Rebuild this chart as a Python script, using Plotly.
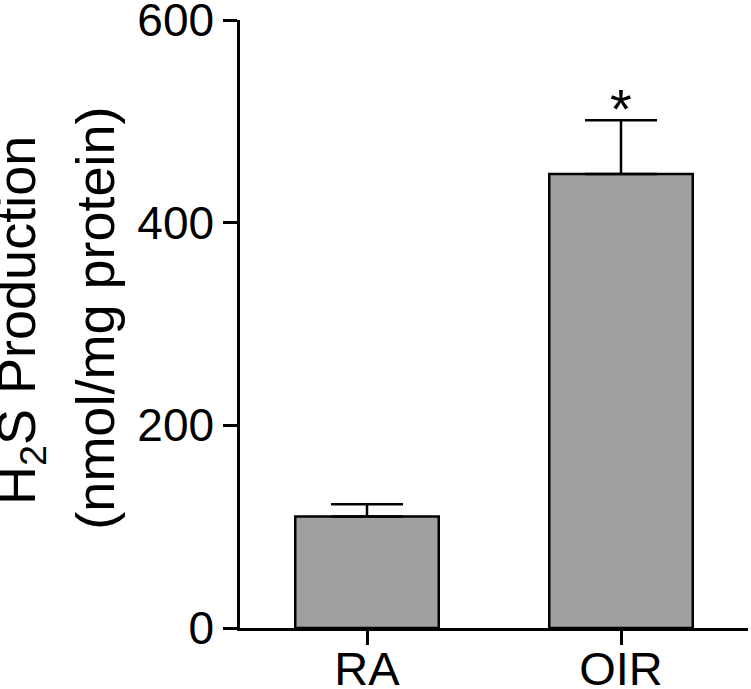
import plotly.graph_objects as go

categories = ["RA", "OIR"]
values = [110, 448]
errors = [12, 53]
significance = ["", "*"]
y_ticks = [0, 200, 400, 600]

FONT = "Arial, Liberation Sans, sans-serif"

fig = go.Figure()
fig.add_trace(go.Bar(
    x=categories, y=values, width=0.565,
    marker=dict(color="#a0a0a0", line=dict(color="black", width=2.5)),
    error_y=dict(type="data", array=errors, arrayminus=[0] * len(errors), symmetric=False,
                 color="black", thickness=2.5, width=36),
))

for c, v, e, s in zip(categories, values, errors, significance):
    if s:
        fig.add_annotation(x=c, y=v + e, text=s, showarrow=False, yanchor="bottom",
                           yshift=-22, font=dict(family=FONT, size=56, color="black"))

fig.add_annotation(xref="paper", yref="paper", x=-0.433, y=0.505, text="H<sub>2</sub>S Production",
                   textangle=-90, showarrow=False, xanchor="center", yanchor="middle",
                   font=dict(family=FONT, size=54, color="black"))
fig.add_annotation(xref="paper", yref="paper", x=-0.286, y=0.51, text="(nmol/mg protein)",
                   textangle=-90, showarrow=False, xanchor="center", yanchor="middle",
                   font=dict(family=FONT, size=54, color="black"))

fig.update_layout(
    width=751, height=689,
    margin=dict(l=240, r=3, t=20, b=61, autoexpand=False),
    paper_bgcolor="white", plot_bgcolor="white",
    showlegend=False,
    font=dict(family=FONT, color="black", size=46),
    xaxis=dict(range=[-0.5, 1.5], showline=True, linecolor="black", linewidth=2.5,
               ticks="outside", ticklen=14, tickwidth=2.5, tickcolor="black",
               showgrid=False, zeroline=False, tickfont=dict(size=47),
               automargin=False, ticklabeloverflow="allow", ticklabelstandoff=-16),
    yaxis=dict(range=[0, 600], tickvals=y_ticks, showline=True, linecolor="black", linewidth=2.5,
               ticks="outside", ticklen=14, tickwidth=2.5, tickcolor="black",
               showgrid=False, zeroline=False, tickfont=dict(size=46),
               automargin=False, ticklabeloverflow="allow"),
)

fig.write_html("out.html", config={"displayModeBar": False},
               post_script="document.body.style.margin='0';")
